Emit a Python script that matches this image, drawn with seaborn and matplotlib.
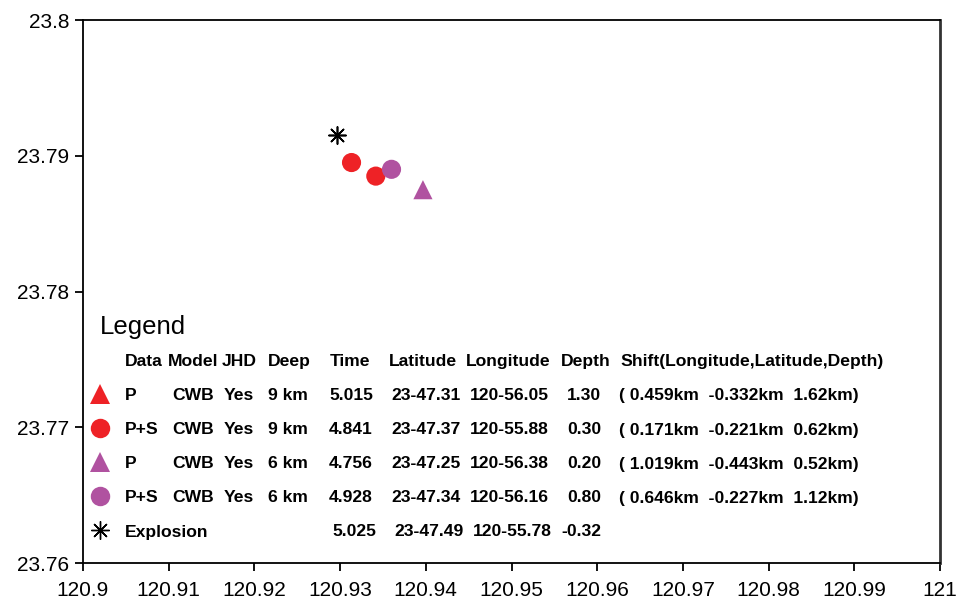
import pandas as pd
import numpy as np
import matplotlib
matplotlib.use('Agg')
import matplotlib.pyplot as plt
import seaborn as sns

# events, in table order
data_type = ['P', 'P+S', 'P', 'P+S', 'Explosion']
model = ['CWB', 'CWB', 'CWB', 'CWB', '']
jhd = ['Yes', 'Yes', 'Yes', 'Yes', '']
deep = ['9 km', '9 km', '6 km', '6 km', '']
origin_time = ['5.015', '4.841', '4.756', '4.928', '5.025']
lat_min = [47.31, 47.37, 47.25, 47.34, 47.49]
lon_min = [56.05, 55.88, 56.38, 56.16, 55.78]
depth = ['1.30', '0.30', '0.20', '0.80', '-0.32']
shift = ['( 0.459km  -0.332km  1.62km)', '( 0.171km  -0.221km  0.62km)',
         '( 1.019km  -0.443km  0.52km)', '( 0.646km  -0.227km  1.12km)', '']
group = ['red', 'red', 'purple', 'purple', 'explosion']
plot_marker = ['o', 'o', '^', 'o', 'ast']     # as drawn on the map
legend_marker = ['^', 'o', '^', 'o', 'ast']   # as drawn in the legend table

x_ticks = [120.9, 120.91, 120.92, 120.93, 120.94, 120.95, 120.96, 120.97, 120.98, 120.99, 121]
y_ticks = [23.76, 23.77, 23.78, 23.79, 23.8]

colors = {'red': '#ee2226', 'purple': '#b052a0', 'explosion': 'black'}
asterisk = (8, 2, 0)

df = pd.DataFrame({
    'lon': [120 + m / 60 for m in lon_min],
    'lat': [23 + m / 60 for m in lat_min],
    'group': group,
    'marker': plot_marker,
})

sns.set_style('ticks')
plt.rcParams['font.family'] = ['Liberation Sans', 'DejaVu Sans']
plt.rcParams['text.color'] = 'black'
plt.rcParams['xtick.color'] = 'black'
plt.rcParams['ytick.color'] = 'black'

fig = plt.figure(figsize=(9.6, 6.01), dpi=100)
ax = fig.add_axes([83 / 960, 1 - 563 / 601, 857 / 960, 543 / 601])

filled = df[df['marker'] != 'ast']
sns.scatterplot(data=filled, x='lon', y='lat', hue='group', style='marker',
                palette=colors, markers={'o': 'o', '^': '^'}, s=190,
                linewidth=0, legend=False, ax=ax)
expl = df[df['marker'] == 'ast']
ax.scatter(expl['lon'], expl['lat'], marker=asterisk, s=150, c='black', linewidths=1.2)

ax.set_xlim(120.9, 121)
ax.set_ylim(23.76, 23.8)
ax.set_xticks(x_ticks)
ax.set_xticklabels([f'{v:g}' for v in x_ticks])
ax.set_yticks(y_ticks)
ax.set_yticklabels([f'{v:g}' for v in y_ticks])
ax.set_xlabel('')
ax.set_ylabel('')
ax.tick_params(axis='both', labelsize=15, length=6, width=1.3, color='black',
               labelcolor='black', pad=4)
ax.tick_params(axis='x', pad=7)
for s in ax.spines.values():
    s.set_color('black')
    s.set_linewidth(1.3)
ax.spines['right'].set_linewidth(2)
ax.spines['right'].set_color('#333333')


def fx(px):
    return px / 960


def fy(py):
    return 1 - py / 601


# legend table
fig.text(fx(100), fy(334), 'Legend', fontsize=18.5, va='baseline', color='black')

headers = ['Data', 'Model', 'JHD', 'Deep', 'Time', 'Latitude', 'Longitude', 'Depth',
           'Shift(Longitude,Latitude,Depth)']
header_x = [125, 168, 222, 268, 330, 389, 466, 561, 620]
for h, x in zip(headers, header_x):
    fig.text(fx(x), fy(366), h, fontsize=12.6, fontweight='bold', va='baseline', color='black')

row_x = [125, 172, 224, 268, 329, 391, 470, 567, 619]
expl_x = [125, 172, 224, 268, 332, 394, 473, 561, 619]
row_base = [400, 434.5, 468.5, 502.5, 536.5]
for i in range(len(data_type)):
    cells = [data_type[i], model[i], jhd[i], deep[i], origin_time[i],
             f'23-{lat_min[i]:.2f}', f'120-{lon_min[i]:.2f}', depth[i], shift[i]]
    xs = expl_x if data_type[i] == 'Explosion' else row_x
    for c, x in zip(cells, xs):
        if c:
            fig.text(fx(x), fy(row_base[i]), c, fontsize=12.6, fontweight='bold',
                     va='baseline', color='black')
    m = asterisk if legend_marker[i] == 'ast' else legend_marker[i]
    col = colors[group[i]]
    if legend_marker[i] == 'ast':
        fig.lines.append(plt.Line2D([fx(100)], [fy(row_base[i] - 6.5)], marker=m, ms=13,
                                    color=col, mew=1.0, linestyle='none',
                                    transform=fig.transFigure))
    else:
        fig.lines.append(plt.Line2D([fx(100)], [fy(row_base[i] - 6.5)], marker=m, ms=14,
                                    color=col, mew=0, linestyle='none',
                                    transform=fig.transFigure))

fig.savefig('out.png', dpi=100)
